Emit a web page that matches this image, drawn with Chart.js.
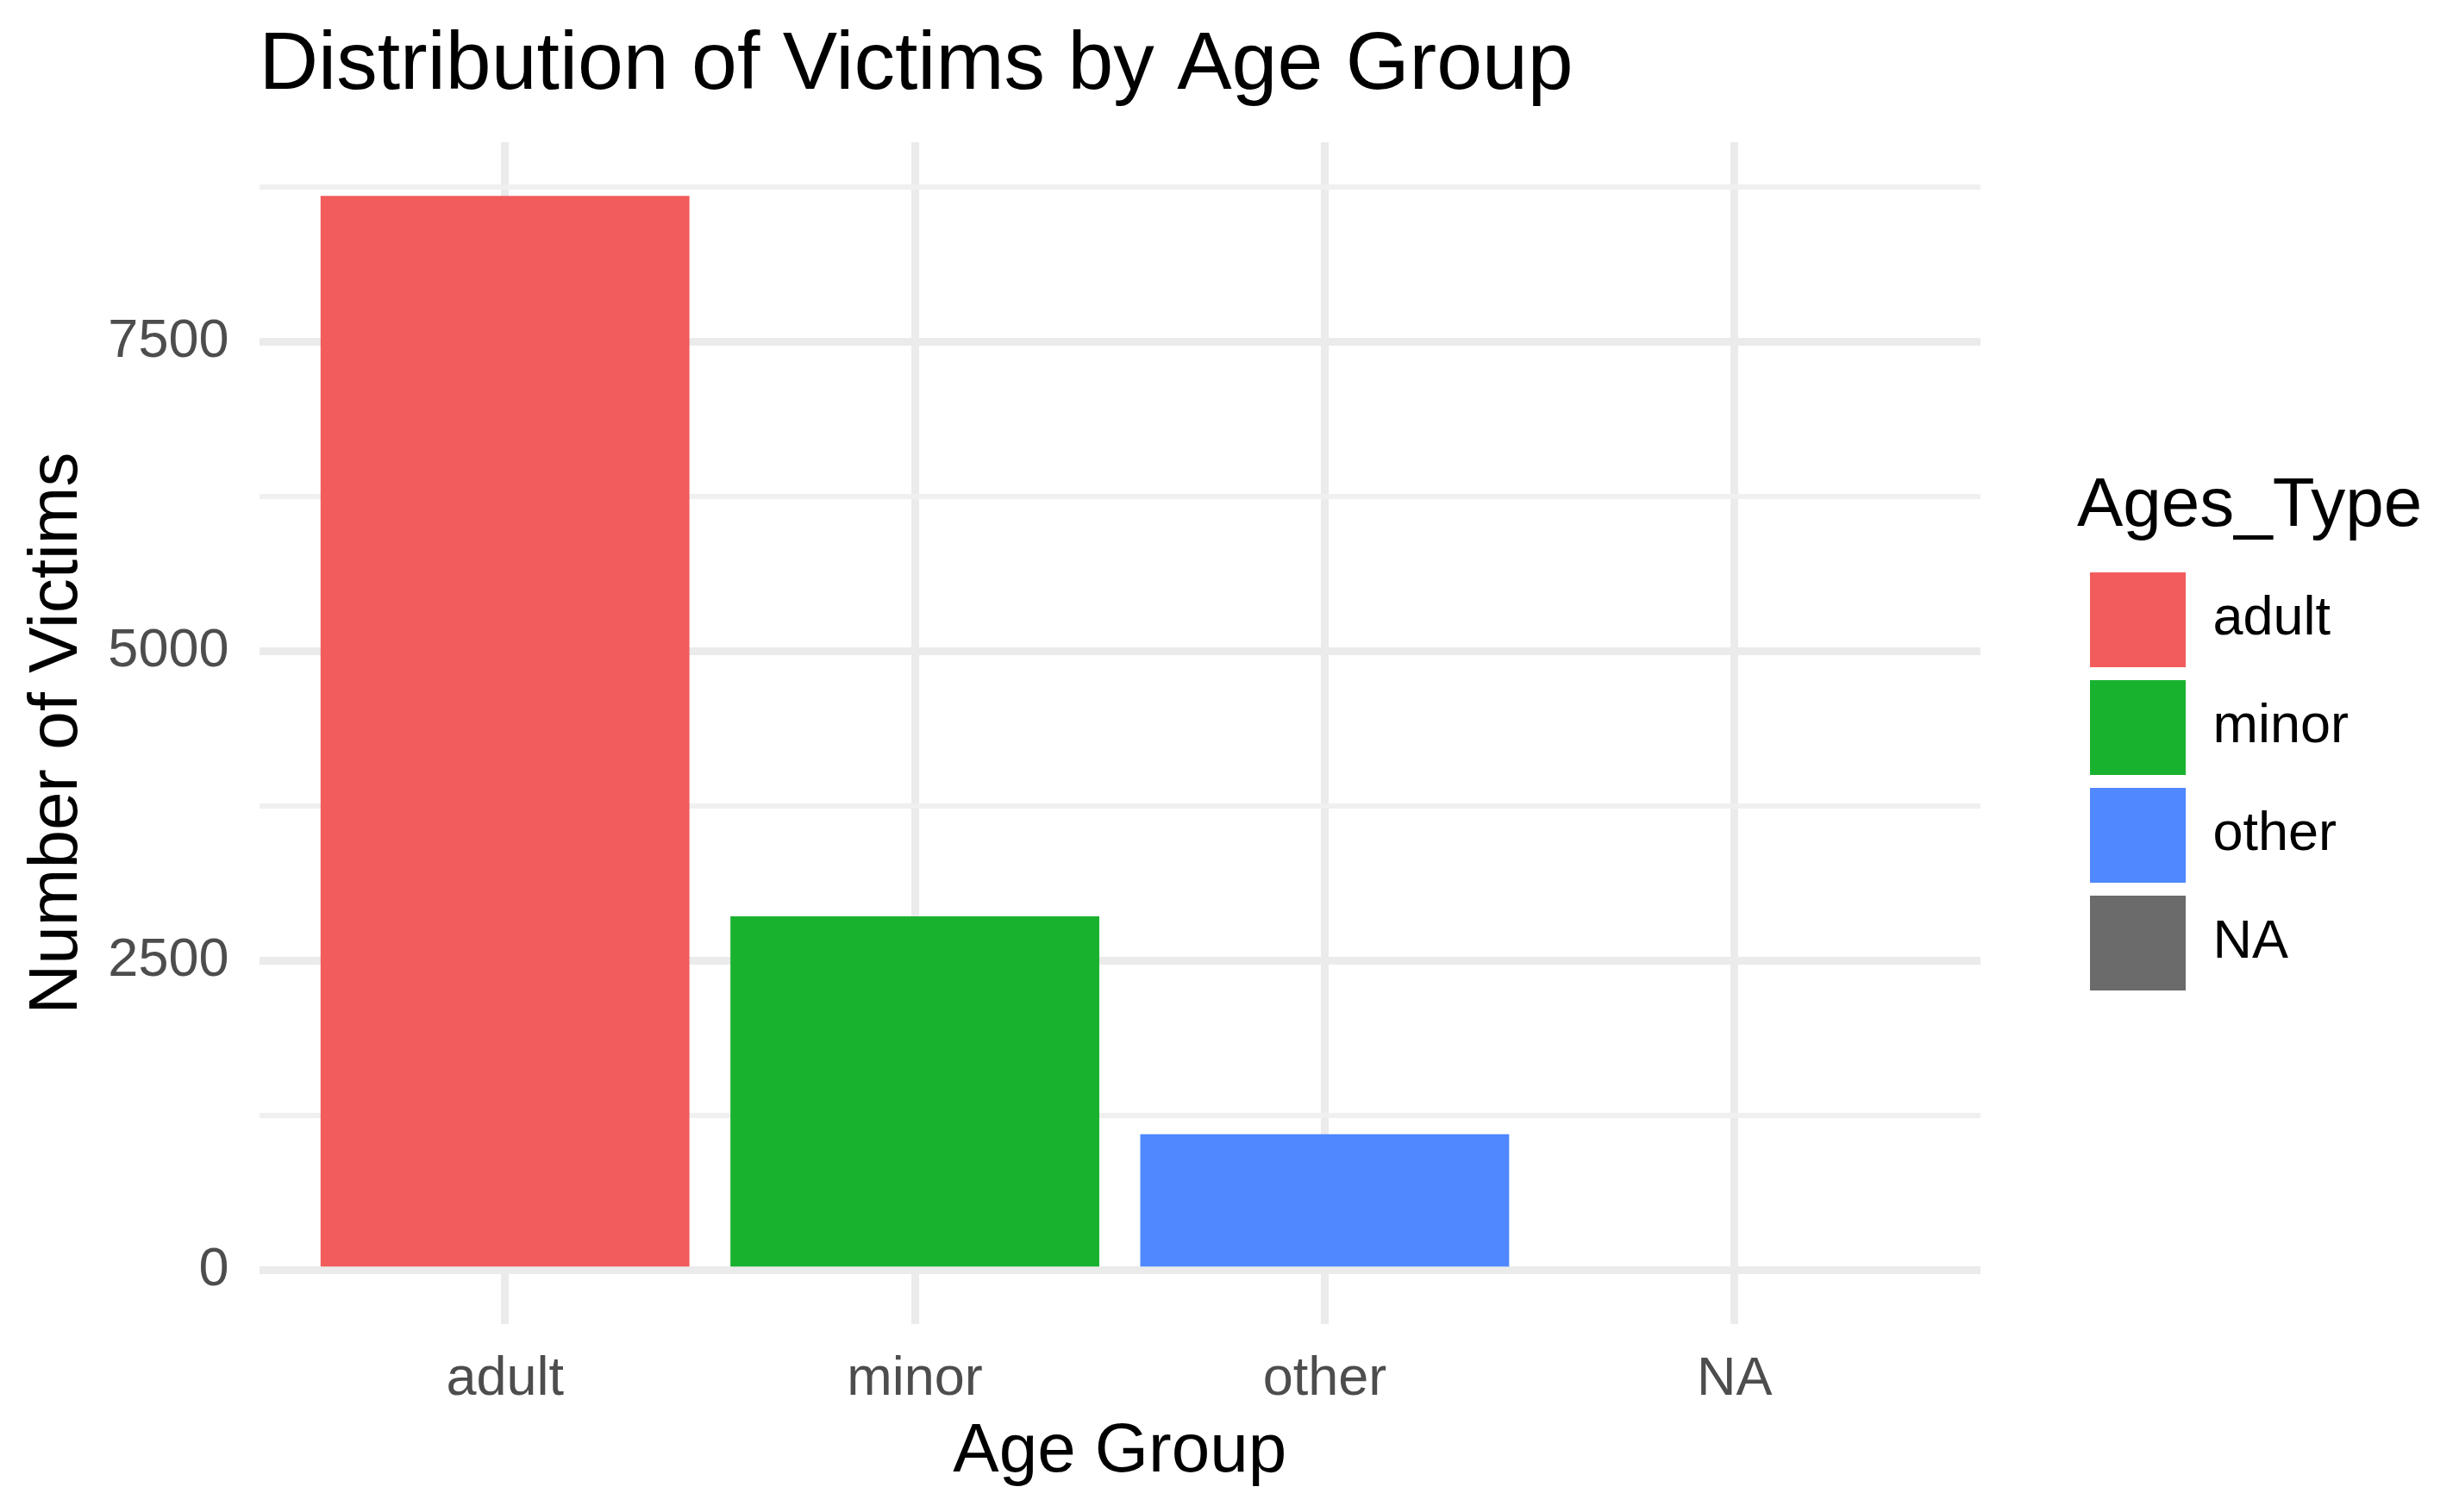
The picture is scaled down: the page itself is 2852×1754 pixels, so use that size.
<!DOCTYPE html>
<html>
<head>
<meta charset="utf-8">
<title>Distribution of Victims by Age Group</title>
<script src="https://cdn.jsdelivr.net/npm/chart.js@4.4.1/dist/chart.umd.min.js"></script>
<style>
  html, body { margin: 0; padding: 0; background: #ffffff; }
  #wrap { width: 2852px; height: 1754px; position: relative; }
</style>
</head>
<body>
<div id="wrap"><canvas id="chart"></canvas></div>
<script>
// ---- data ----
const categories = ['adult', 'minor', 'other', 'NA'];
const victimCounts = [8680, 2860, 1100, 0];
const barColors = ['#F25C5C', '#19B22F', '#4F88FF', '#6B6B6B'];
const yMajorTicks = [0, 2500, 5000, 7500];
const yMinorTicks = [1250, 3750, 6250, 8750];
const chartTitle = 'Distribution of Victims by Age Group';
const xAxisTitle = 'Age Group';
const yAxisTitle = 'Number of Victims';
const legendTitle = 'Ages_Type';

// ggplot-style expansion: 5% on continuous axis, 0.6 units on discrete axis
const yMaxData = Math.max(...victimCounts);
const yMinData = Math.min(0, ...victimCounts);
const ySpan = yMaxData - yMinData;
const yMin = yMinData - 0.05 * ySpan;
const yMax = yMaxData + 0.05 * ySpan;
const xMin = -0.6;
const xMax = categories.length - 1 + 0.6;

Chart.defaults.font.family = "'Liberation Sans', Arial, Helvetica, sans-serif";

const gridMajor = '#EBEBEB';
const gridMinor = '#F0F0F0';
const isMajor = (v) => yMajorTicks.includes(v);

const shiftPlugin = {
  id: 'ggShift',
  afterLayout(chart) {
    const area = chart.chartArea;
    if (chart.titleBlock) {
      const w = chart.titleBlock.right - chart.titleBlock.left;
      chart.titleBlock.left = area.left;
      chart.titleBlock.right = area.left + w;
    }
    if (chart.legend) {
      chart.legend.left = area.right + 112;
      chart.legend.right = chart.legend.left + 480;
      chart.legend.width = 480;
    }
  }
};

new Chart(document.getElementById('chart'), {
  type: 'bar',
  data: {
    datasets: [{
      label: 'Ages_Type',
      data: categories.map((c, i) => ({ x: i, y: victimCounts[i] })),
      backgroundColor: barColors,
      borderWidth: 0,
      categoryPercentage: 1.0,
      barPercentage: 0.9
    }]
  },
  options: {
    responsive: true,
    maintainAspectRatio: false,
    animation: false,
    layout: { padding: { left: 15, top: 0, right: 255, bottom: 0 } },
    plugins: {
      tooltip: { enabled: false },
      title: {
        display: true,
        text: chartTitle,
        align: 'start',
        color: '#000000',
        font: { size: 95, weight: 'normal' },
        padding: { top: 20, bottom: 31 }
      },
      legend: {
        display: true,
        position: 'right',
        align: 'center',
        fullSize: false,
        maxWidth: 300,
        title: {
          display: true,
          text: legendTitle,
          position: 'start',
          color: '#000000',
          font: { size: 80 },
          padding: { top: 11, bottom: 5 }
        },
        labels: {
          boxWidth: 111,
          boxHeight: 110,
          padding: 15,
          color: '#111111',
          font: { size: 63 },
          generateLabels: () => categories.map((c, i) => ({
            text: c,
            fillStyle: barColors[i],
            strokeStyle: barColors[i],
            lineWidth: 0,
            hidden: false,
            index: i
          }))
        }
      }
    },
    scales: {
      x: {
        type: 'linear',
        min: xMin,
        max: xMax,
        offset: false,
        afterBuildTicks: (s) => { s.ticks = categories.map((c, i) => ({ value: i })); },
        afterFit: (s) => { s.height = 218; },
        border: { display: false },
        grid: { color: gridMajor, lineWidth: 9, drawTicks: false, offset: false },
        ticks: {
          autoSkip: false,
          maxRotation: 0,
          padding: 27,
          color: '#4D4D4D',
          font: { size: 63 },
          callback: (v) => (categories[v] !== undefined) ? categories[v] : ''
        },
        title: {
          display: true,
          text: xAxisTitle,
          color: '#000000',
          font: { size: 80 },
          padding: { top: 0, bottom: 21 }
        }
      },
      y: {
        type: 'linear',
        min: yMin,
        max: yMax,
        afterBuildTicks: (s) => {
          s.ticks = yMajorTicks.concat(yMinorTicks)
            .filter(v => v >= yMin && v <= yMax)
            .sort((a, b) => a - b)
            .map(v => ({ value: v }));
        },
        afterFit: (s) => { s.width = 285.5; },
        border: { display: false },
        grid: {
          drawTicks: false,
          color: (ctx) => (ctx.tick && isMajor(ctx.tick.value)) ? gridMajor : gridMinor,
          lineWidth: (ctx) => (ctx.tick && isMajor(ctx.tick.value)) ? 9 : 6
        },
        ticks: {
          autoSkip: false,
          padding: 35,
          color: '#4D4D4D',
          font: { size: 63 },
          callback: (v) => isMajor(v) ? String(v) : ''
        },
        title: {
          display: true,
          text: yAxisTitle,
          color: '#000000',
          font: { size: 80 },
          padding: { top: 4, bottom: 0 }
        }
      }
    }
  },
  plugins: [shiftPlugin]
});
</script>
</body>
</html>
